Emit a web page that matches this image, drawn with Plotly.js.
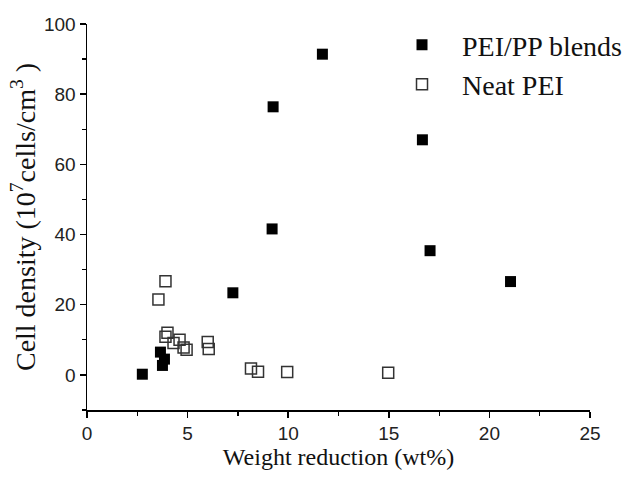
<!DOCTYPE html>
<html>
<head>
<meta charset="utf-8">
<script src="https://cdn.plot.ly/plotly-3.0.1.min.js"></script>
<style>html,body{margin:0;padding:0;background:#fff;}#chart{width:629px;height:478px;}</style>
</head>
<body>
<div id="chart"></div>
<script>
// PEI/PP blends (filled squares)
const blendWeight = [11.7, 9.25, 16.67, 9.2, 17.05, 21.05, 7.25, 3.65, 3.85, 3.75, 2.75];
const blendDensity = [91.4, 76.4, 67.0, 41.6, 35.4, 26.6, 23.4, 6.5, 4.5, 2.7, 0.2];
// Neat PEI (open squares)
const neatWeight = [3.9, 3.55, 4.0, 3.9, 4.6, 4.3, 4.8, 4.95, 6.0, 6.05, 8.15, 8.5, 9.95, 14.97];
const neatDensity = [26.7, 21.5, 12.0, 10.9, 10.0, 9.1, 7.8, 7.2, 9.4, 7.4, 1.8, 0.9, 0.8, 0.6];

const traces = [
  {
    x: blendWeight, y: blendDensity, type: 'scatter', mode: 'markers',
    name: 'PEI/PP blends', legendgroup: 'a',
    marker: {symbol: 'square', size: 11, color: '#000', line: {width: 0}}
  },
  {
    x: neatWeight, y: neatDensity, type: 'scatter', mode: 'markers',
    name: 'Neat PEI', legendgroup: 'b',
    marker: {symbol: 'square-open', size: 11, color: '#333', line: {width: 1.5, color: '#333'}}
  }
];

const tickFont = {family: 'Liberation Sans, Arial, sans-serif', size: 19, color: '#222'};
const serif = 'Liberation Serif, Times New Roman, serif';

const layout = {
  width: 629, height: 478,
  margin: {l: 87, r: 39, t: 24, b: 68, autoexpand: false},
  paper_bgcolor: '#fff', plot_bgcolor: '#fff',
  showlegend: true,
  legend: {
    x: 0.5865, y: 1.01, xanchor: 'left', yanchor: 'top',
    font: {family: serif, size: 28, color: '#111'},
    bgcolor: 'rgba(0,0,0,0)', tracegroupgap: 0, traceorder: 'grouped',
    itemwidth: 70
  },
  xaxis: {
    range: [0, 25], dtick: 5, tick0: 0,
    showgrid: false, zeroline: false,
    showline: true, linecolor: '#000', linewidth: 1.5,
    ticks: 'outside', ticklen: 6, tickwidth: 1.5, tickcolor: '#000',
    minor: {dtick: 2.5, ticks: 'outside', ticklen: 4, tickwidth: 1.2, tickcolor: '#000', showgrid: false},
    tickfont: tickFont,
    title: {text: 'Weight reduction (wt%)', font: {family: serif, size: 24, color: '#111'}, standoff: 4}
  },
  yaxis: {
    range: [-10, 100], dtick: 20, tick0: 0,
    showgrid: false, zeroline: false,
    showline: true, linecolor: '#000', linewidth: 1.5,
    ticks: 'outside', ticklen: 6, tickwidth: 1.5, tickcolor: '#000',
    minor: {dtick: 10, ticks: 'outside', ticklen: 4, tickwidth: 1.2, tickcolor: '#000', showgrid: false},
    tickfont: tickFont,
    title: {text: 'Cell density (10<sup>7</sup>cells/cm<sup>3</sup> )', font: {family: serif, size: 28, color: '#111'}, standoff: 0}
  }
};

Plotly.newPlot('chart', traces, layout, {displayModeBar: false, staticPlot: true});
</script>
</body>
</html>
